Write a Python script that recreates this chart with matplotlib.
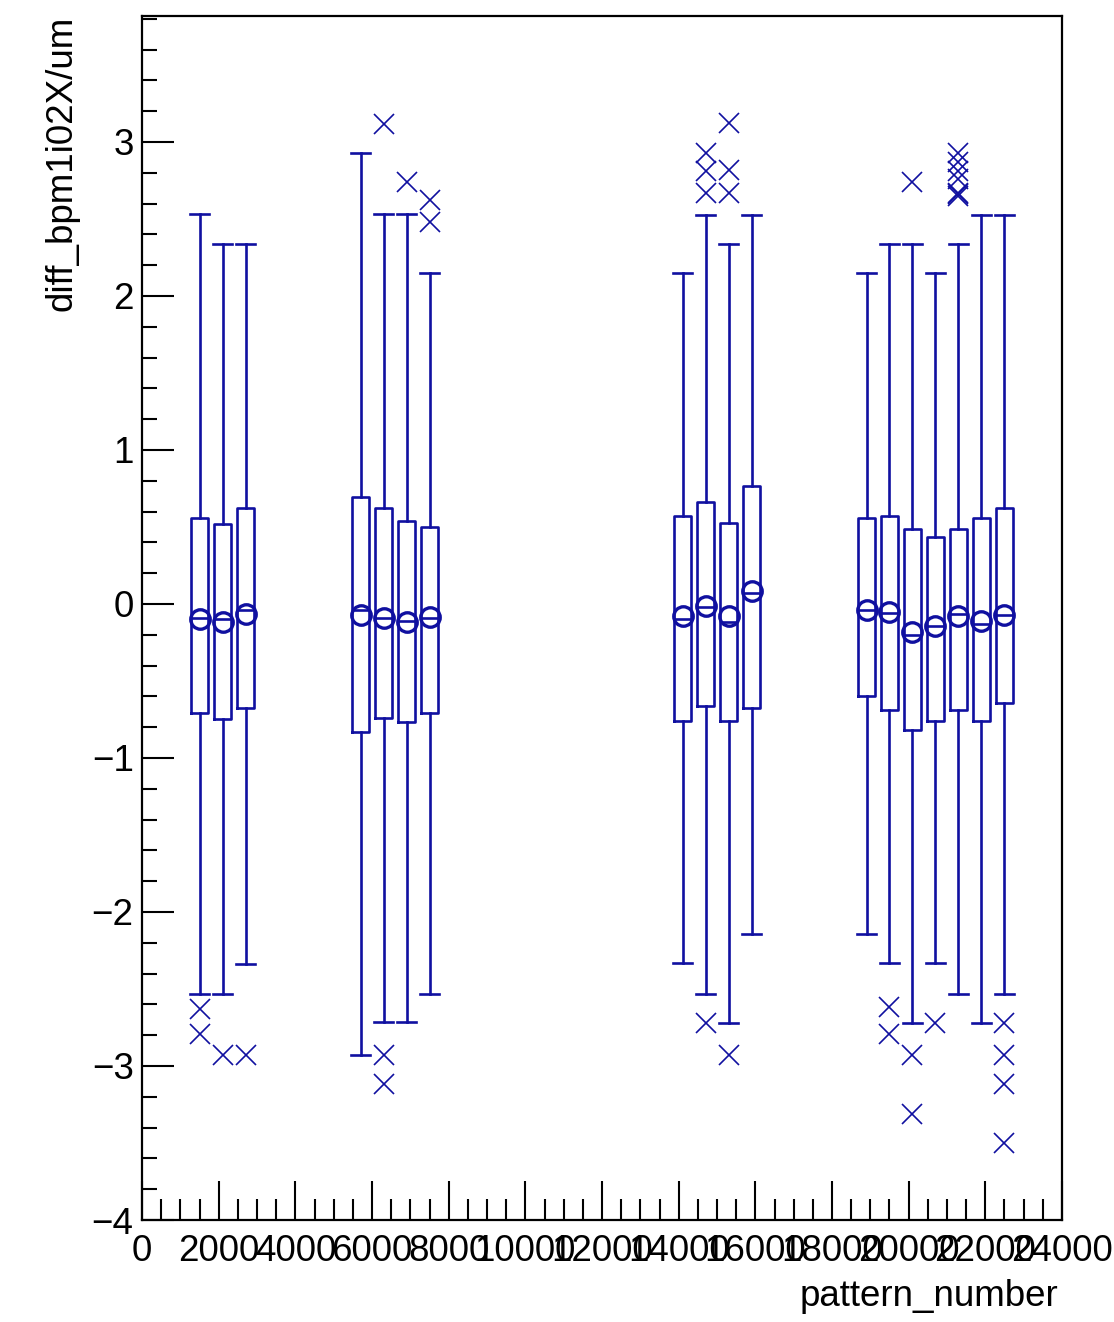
import matplotlib
matplotlib.use("Agg")
import matplotlib.pyplot as plt
from matplotlib.ticker import MultipleLocator

plt.rcParams["font.family"] = ["Liberation Sans", "DejaVu Sans"]

C = "#1010a0"

# candle positions (bin centres, pattern_number)
positions = [1500, 2100, 2700, 5700, 6300, 6900, 7500,
             14100, 14700, 15300, 15900,
             18900, 19500, 20100, 20700, 21300, 21900, 22500]

q3 = [0.556, 0.519, 0.625, 0.693, 0.625, 0.539, 0.502,
      0.574, 0.660, 0.524, 0.766,
      0.556, 0.574, 0.485, 0.433, 0.485, 0.556, 0.625]
q1 = [-0.710, -0.747, -0.673, -0.829, -0.742, -0.764, -0.710,
      -0.760, -0.660, -0.760, -0.677,
      -0.597, -0.688, -0.818, -0.760, -0.688, -0.760, -0.640]
medians = [-0.093, -0.100, -0.040, -0.040, -0.093, -0.110, -0.093,
           -0.100, -0.020, -0.115, 0.070,
           -0.040, -0.058, -0.200, -0.140, -0.067, -0.130, -0.070]
means = [-0.097, -0.115, -0.067, -0.071, -0.090, -0.117, -0.085,
         -0.076, -0.011, -0.076, 0.084,
         -0.040, -0.050, -0.180, -0.140, -0.080, -0.110, -0.070]
whis_hi = [2.530, 2.338, 2.338, 2.926, 2.530, 2.530, 2.147,
           2.150, 2.526, 2.338, 2.526,
           2.150, 2.338, 2.338, 2.150, 2.338, 2.526, 2.526]
whis_lo = [-2.530, -2.530, -2.338, -2.930, -2.716, -2.716, -2.530,
           -2.333, -2.530, -2.720, -2.145,
           -2.145, -2.333, -2.720, -2.333, -2.530, -2.720, -2.530]
outliers = [
    [-2.63, -2.79],
    [-2.93],
    [-2.93],
    [],
    [3.117, -2.93, -3.117],
    [2.742],
    [2.62, 2.48],
    [],
    [2.93, 2.81, 2.67, -2.72],
    [3.12, 2.82, 2.67, -2.93],
    [],
    [],
    [-2.62, -2.79],
    [2.74, -2.93, -3.31],
    [-2.72],
    [2.93, 2.87, 2.81, 2.76, 2.67, 2.66, 2.65],
    [],
    [-2.72, -2.93, -3.117, -3.50],
]

stats = [dict(med=m, q1=a, q3=b, whislo=lo, whishi=hi, fliers=f, mean=mu)
         for m, a, b, lo, hi, f, mu in
         zip(medians, q1, q3, whis_lo, whis_hi, outliers, means)]

fig = plt.figure(figsize=(11.14, 13.22), dpi=100)
ax = fig.add_axes([142 / 1114, 1 - 1220 / 1322, 920 / 1114, 1204 / 1322])

line = dict(color=C, linewidth=1.9)
ax.bxp(stats, positions=positions, widths=420, capwidths=470,
       showmeans=True, manage_ticks=False,
       boxprops=line, whiskerprops=line, capprops=line, medianprops=line,
       meanprops=dict(marker="o", markerfacecolor="none",
                      markeredgecolor=C, markersize=14,
                      markeredgewidth=2.4),
       flierprops=dict(marker="x", markeredgecolor=C, markersize=14,
                       markeredgewidth=1.2, linestyle="none"))

ax.set_xlim(0, 24000)
ax.set_ylim(-4, 3.818)
ax.xaxis.set_major_locator(MultipleLocator(2000))
ax.xaxis.set_minor_locator(MultipleLocator(500))
ax.yaxis.set_major_locator(MultipleLocator(1))
ax.yaxis.set_minor_locator(MultipleLocator(0.2))

ax.tick_params(which="both", direction="in", top=False, right=False,
               width=1.5, colors="black", labelsize=26.5)
ax.tick_params(axis="x", which="major", length=28, pad=10)
ax.tick_params(axis="x", which="minor", length=15)
ax.tick_params(axis="y", which="major", length=23, pad=6)
ax.tick_params(axis="y", which="minor", length=11)
for s in ax.spines.values():
    s.set_linewidth(1.6)

ax.set_xlabel("pattern_number", fontsize=26.5, loc="right")
ax.xaxis.set_label_coords(0.9957, -0.049)
ax.set_ylabel("diff_bpm1i02X/um", fontsize=26.5, loc="top")
ax.yaxis.set_label_coords(-0.068, 1.0)

fig.savefig("out.png", dpi=100, facecolor="white")
